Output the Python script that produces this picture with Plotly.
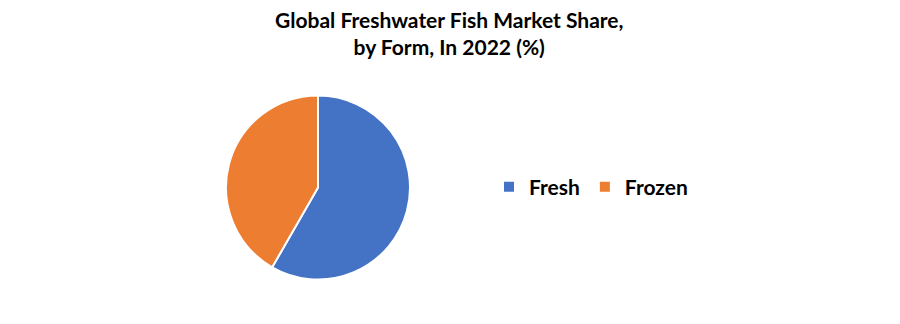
import plotly.graph_objects as go

labels = ["Fresh", "Frozen"]
values = [58.3, 41.7]
colors = ["#4472C4", "#ED7D31"]
title_text = "<b>Global Freshwater Fish Market Share,<br>by Form, In 2022 (%)</b>"

fig = go.Figure(go.Pie(
    labels=labels,
    values=values,
    sort=False,
    direction="clockwise",
    rotation=0,
    marker=dict(colors=colors, line=dict(color="white", width=2)),
    textinfo="none",
    hoverinfo="label+percent",
    domain=dict(x=[226/900, 410/900], y=[1-281/324, 1-94/324]),
))

fig.add_annotation(
    text=title_text, xref="paper", yref="paper", x=449/900, y=1-5/324,
    xanchor="center", yanchor="top", showarrow=False, align="center",
    font=dict(family="Lato", size=21, color="#000000"),
)

fig.update_layout(
    width=900, height=324,
    margin=dict(l=0, r=0, t=0, b=0),
    paper_bgcolor="white",
    plot_bgcolor="white",
    font=dict(family="Lato", color="#000000"),
    legend=dict(orientation="h", x=489/900, xanchor="left", y=0.5 + (324/2-187)/324, yanchor="middle",
                font=dict(family="Lato", size=21, color="#000000", weight="bold"),
                itemwidth=30, traceorder="normal"),
)
fig.write_html("out.html")
